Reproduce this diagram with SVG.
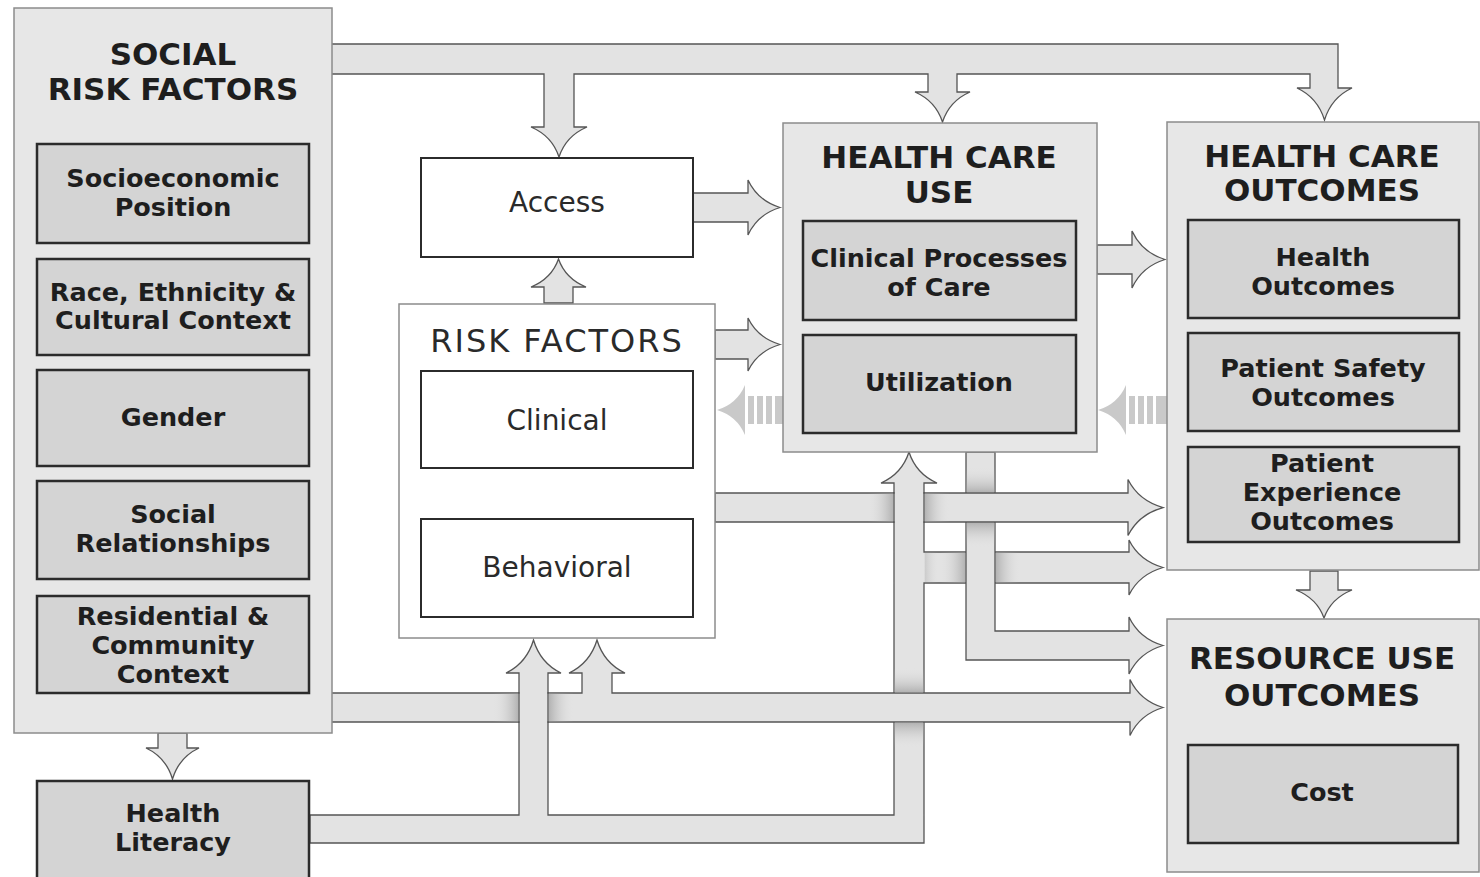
<svg xmlns="http://www.w3.org/2000/svg" width="1480" height="877" viewBox="0 0 1480 877">
<style>
.ob{fill:#e7e7e7;stroke:#8c8c8c;stroke-width:1.5}
.ib{fill:#d4d4d4;stroke:#2b2b2b;stroke-width:2.5}
.wb{fill:#fff;stroke:#2b2b2b;stroke-width:2}
.wo{fill:#fff;stroke:#8c8c8c;stroke-width:1.5}
.ar{fill:#e3e3e3;stroke:#555;stroke-width:1.3;stroke-linejoin:miter}
.pf{fill:#e3e3e3;stroke:none}
.pl{stroke:#555;stroke-width:1.3}
.da{fill:#c9c9c9;stroke:none}
.t{font-family:"DejaVu Sans",sans-serif;font-weight:bold;fill:#1e1e1e;text-anchor:middle}
.h{font-size:31px}
.l{font-size:25.5px}
.r{font-family:"DejaVu Sans",sans-serif;font-weight:normal;fill:#2a2a2a;text-anchor:middle;font-size:28px}
</style>
<defs>
<linearGradient id="gR" x1="0" y1="0" x2="1" y2="0"><stop offset="0" stop-color="#e3e3e3" stop-opacity="0"/><stop offset="1" stop-color="#b2b2b2"/></linearGradient>
<linearGradient id="gL" x1="1" y1="0" x2="0" y2="0"><stop offset="0" stop-color="#e3e3e3" stop-opacity="0"/><stop offset="1" stop-color="#b2b2b2"/></linearGradient>
<linearGradient id="gD" x1="0" y1="0" x2="0" y2="1"><stop offset="0" stop-color="#e3e3e3" stop-opacity="0"/><stop offset="1" stop-color="#b2b2b2"/></linearGradient>
<linearGradient id="gU" x1="0" y1="1" x2="0" y2="0"><stop offset="0" stop-color="#e3e3e3" stop-opacity="0"/><stop offset="1" stop-color="#b2b2b2"/></linearGradient>
</defs>
<rect width="1480" height="877" fill="#fff"/>

<g id="connectors">
<!-- Social risk factors top band to Access, Health Care Use, Health Care Outcomes -->
<path class="ar" d="M331,44 L1338,44 L1338,88 L1352,88 Q1331.4,97.6 1324.5,120 Q1317.6,97.6 1297,88 L1310,88 L1310,74 L957,74 L957,92 L970,92 Q949.4,101 942.5,122 Q935.6,101 915,92 L928,92 L928,74 L574,74 L574,127 L587,127 Q565.9,136 559,157 Q552.1,136 531,127 L544,127 L544,74 L331,74 Z"/>
<!-- Risk factors to Access -->
<path class="ar" d="M544,303 L544,287 L531,287 Q551.6,278.6 558.5,259 Q565.4,278.6 586,287 L573,287 L573,303 Z"/>
<!-- Behavioral to Clinical -->
<path class="ar" d="M544,518 L544,501 L531,501 Q551.6,492 558.5,470 Q565.4,492 586,501 L573,501 L573,518 Z"/>
<!-- Access to Health Care Use -->
<path class="ar" d="M693,193 L748,193 L748,180 Q757.6,200.6 780,207.5 Q757.6,214.4 748,235 L748,222 L693,222 Z"/>
<!-- Risk factors to Health Care Use -->
<path class="ar" d="M715,330 L748,330 L748,318 Q757.6,337.9 780,344.5 Q757.6,351.1 748,371 L748,359 L715,359 Z"/>
<!-- Health Care Use to Health Care Outcomes -->
<path class="ar" d="M1097,245 L1132,245 L1132,231 Q1141.9,252.5 1165,259.5 Q1141.9,266.5 1132,288 L1132,274 L1097,274 Z"/>
<!-- dashed feedback arrows -->
<path class="da" d="M717,410 Q737,404 745,385 L745,435 Q737,416 717,410 Z"/>
<rect class="da" x="748" y="396" width="6" height="28"/>
<rect class="da" x="757" y="396" width="6" height="28"/>
<rect class="da" x="766" y="396" width="6" height="28"/>
<rect class="da" x="775" y="396" width="8" height="28"/>
<path class="da" d="M1098,410 Q1118,404 1126,385 L1126,435 Q1118,416 1098,410 Z"/>
<rect class="da" x="1129" y="396" width="6" height="28"/>
<rect class="da" x="1138" y="396" width="6" height="28"/>
<rect class="da" x="1147" y="396" width="6" height="28"/>
<rect class="da" x="1156" y="396" width="11" height="28"/>
<!-- Health Care Outcomes to Resource Use Outcomes -->
<path class="ar" d="M1310,571 L1338,571 L1338,590 L1352,590 Q1331,598.4 1324,618 Q1317,598.4 1296,590 L1310,590 Z"/>
<!-- Social risk factors to Health Literacy -->
<path class="ar" d="M158,733 L187,733 L187,748 L199,748 Q179.1,757.3 172.5,779 Q165.9,757.3 146,748 L158,748 Z"/>
<!-- Health Literacy system -->
<path class="ar" d="M310,815 L519,815 L519,673 L506,673 Q526.6,663.1 533.5,640 Q540.4,663.1 561,673 L548,673 L548,815 L894,815 L894,483 L881,483 Q902,473.7 909,452 Q916,473.7 937,483 L924,483 L924,552 L1129,552 L1129,540 Q1139.2,560.6 1163,567.5 Q1139.2,574.4 1129,595 L1129,583 L924,583 L924,843 L310,843 Z"/>
<rect x="924.7" y="552.7" width="14" height="29.6" fill="url(#gL)" opacity="0.5"/>
<rect x="940" y="552.7" width="25.3" height="29.6" fill="url(#gR)"/>
<rect x="995.7" y="552.7" width="25" height="29.6" fill="url(#gL)"/>
<!-- Health Care Use to Resource Use Outcomes -->
<path class="ar" d="M966,452 L995,452 L995,631 L1129,631 L1129,617 Q1139.2,638.5 1163,645.5 Q1139.2,652.5 1129,674 L1129,660 L966,660 Z"/>
<rect x="966.7" y="467" width="27.6" height="25.3" fill="url(#gD)"/>
<rect x="966.7" y="522.7" width="27.6" height="25" fill="url(#gU)"/>
<!-- Risk factors to Health Care Outcomes -->
<path class="ar" d="M715,493 L1128,493 L1128,479.5 Q1138.5,500.5 1163,507.5 Q1138.5,514.5 1128,535.5 L1128,522 L715,522 Z"/>
<rect x="868" y="493.7" width="25.3" height="27.6" fill="url(#gR)"/>
<rect x="924.7" y="493.7" width="25" height="27.6" fill="url(#gL)"/>
<rect class="pf" x="894.6" y="492" width="28.8" height="31"/>
<line class="pl" x1="894" y1="492" x2="894" y2="523"/>
<line class="pl" x1="924" y1="492" x2="924" y2="523"/>
<!-- Social risk factors to Resource Use Outcomes, and to Risk factors -->
<path class="ar" d="M331,693 L582,693 L582,673 L569,673 Q590,663.1 597,640 Q604,663.1 625,673 L612,673 L612,693 L1130,693 L1130,679.5 Q1139.9,700.5 1163,707.5 Q1139.9,714.5 1130,735.5 L1130,722 L331,722 Z"/>
<rect x="894.7" y="668" width="28.6" height="24.3" fill="url(#gD)"/>
<rect x="894.7" y="722.7" width="28.6" height="25" fill="url(#gU)"/>
<rect x="493" y="693.7" width="25.3" height="27.6" fill="url(#gR)"/>
<rect x="548.7" y="693.7" width="25" height="27.6" fill="url(#gL)"/>
<rect class="pf" x="519.6" y="692" width="27.8" height="31"/>
<line class="pl" x1="519" y1="692" x2="519" y2="723"/>
<line class="pl" x1="548" y1="692" x2="548" y2="723"/>
</g>

<g id="social-risk-factors">
<rect class="ob" x="14" y="8" width="318" height="725"/>
<text class="t h" x="173" y="65">SOCIAL</text>
<text class="t h" x="173" y="100">RISK FACTORS</text>
</g>
<g id="socioeconomic-position">
<rect class="ib" x="37" y="144" width="272" height="99"/>
<text class="t l" x="173" y="187">Socioeconomic</text>
<text class="t l" x="173" y="216">Position</text>
</g>
<g id="race-ethnicity">
<rect class="ib" x="37" y="259" width="272" height="96"/>
<text class="t l" x="173" y="301">Race, Ethnicity &amp;</text>
<text class="t l" x="173" y="329">Cultural Context</text>
</g>
<g id="gender">
<rect class="ib" x="37" y="370" width="272" height="96"/>
<text class="t l" x="173" y="426">Gender</text>
</g>
<g id="social-relationships">
<rect class="ib" x="37" y="481" width="272" height="98"/>
<text class="t l" x="173" y="523">Social</text>
<text class="t l" x="173" y="552">Relationships</text>
</g>
<g id="residential-community">
<rect class="ib" x="37" y="596" width="272" height="97"/>
<text class="t l" x="173" y="625">Residential &amp;</text>
<text class="t l" x="173" y="654">Community</text>
<text class="t l" x="173" y="683">Context</text>
</g>
<g id="health-literacy">
<rect class="ib" x="37" y="781" width="272" height="110"/>
<text class="t l" x="173" y="822">Health</text>
<text class="t l" x="173" y="851">Literacy</text>
</g>

<g id="access">
<rect class="wb" x="421" y="158" width="272" height="99"/>
<text class="r" x="557" y="212">Access</text>
</g>
<g id="risk-factors">
<rect class="wo" x="399" y="304" width="316" height="334"/>
<text class="r" x="557" y="352" style="font-size:32px;letter-spacing:2px">RISK FACTORS</text>
</g>
<g id="clinical">
<rect class="wb" x="421" y="371" width="272" height="97"/>
<text class="r" x="557" y="430">Clinical</text>
</g>
<g id="behavioral">
<rect class="wb" x="421" y="519" width="272" height="98"/>
<text class="r" x="557" y="577">Behavioral</text>
</g>

<g id="health-care-use">
<rect class="ob" x="783" y="123" width="314" height="329"/>
<text class="t h" x="939" y="168">HEALTH CARE</text>
<text class="t h" x="939" y="203">USE</text>
</g>
<g id="clinical-processes">
<rect class="ib" x="803" y="221" width="273" height="99"/>
<text class="t l" x="939" y="267">Clinical Processes</text>
<text class="t l" x="939" y="296">of Care</text>
</g>
<g id="utilization">
<rect class="ib" x="803" y="335" width="273" height="98"/>
<text class="t l" x="939" y="391">Utilization</text>
</g>

<g id="health-care-outcomes">
<rect class="ob" x="1167" y="122" width="312" height="448"/>
<text class="t h" x="1322" y="167">HEALTH CARE</text>
<text class="t h" x="1322" y="201">OUTCOMES</text>
</g>
<g id="health-outcomes">
<rect class="ib" x="1188" y="220" width="271" height="98"/>
<text class="t l" x="1323" y="266">Health</text>
<text class="t l" x="1323" y="295">Outcomes</text>
</g>
<g id="patient-safety-outcomes">
<rect class="ib" x="1188" y="333" width="271" height="98"/>
<text class="t l" x="1323" y="377">Patient Safety</text>
<text class="t l" x="1323" y="406">Outcomes</text>
</g>
<g id="patient-experience-outcomes">
<rect class="ib" x="1188" y="447" width="271" height="95"/>
<text class="t l" x="1322" y="472">Patient</text>
<text class="t l" x="1322" y="501">Experience</text>
<text class="t l" x="1322" y="530">Outcomes</text>
</g>

<g id="resource-use-outcomes">
<rect class="ob" x="1167" y="619" width="312" height="253"/>
<text class="t h" x="1322" y="669">RESOURCE USE</text>
<text class="t h" x="1322" y="706">OUTCOMES</text>
</g>
<g id="cost">
<rect class="ib" x="1188" y="745" width="270" height="98"/>
<text class="t l" x="1322" y="801">Cost</text>
</g>
</svg>
